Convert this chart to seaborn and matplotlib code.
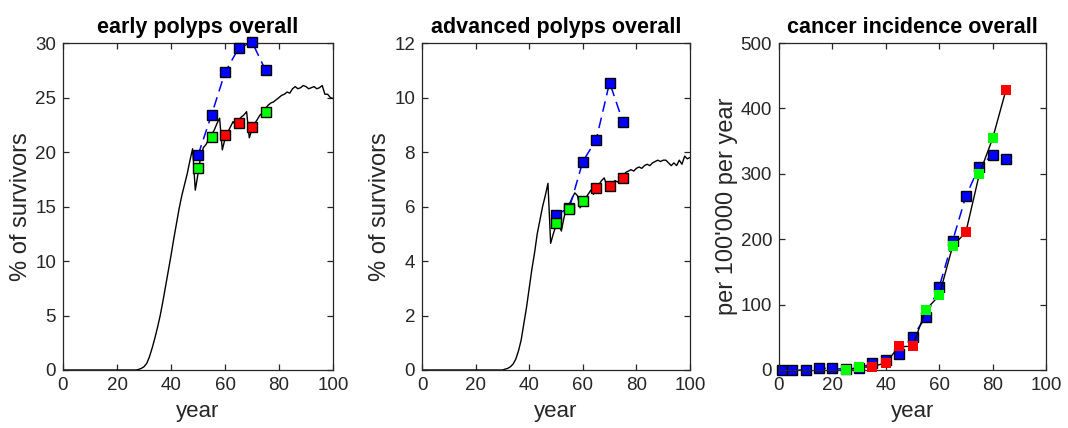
import numpy as np
import pandas as pd
import matplotlib
matplotlib.use("Agg")
import matplotlib.pyplot as plt
import seaborn as sns

sns.set_style("ticks")
plt.rcParams['font.family'] = ['Liberation Sans', 'DejaVu Sans']

# ---------------- data ----------------
years = np.arange(0, 101)

early_model = [0.0] * 28 + [
    0.05, 0.15, 0.3, 0.6, 1.2, 2.0, 2.9, 3.9, 5.0, 6.3,           # 28-37
    7.7, 9.1, 10.5, 12.0, 13.4, 14.8, 16.0, 17.0, 18.0, 19.2,     # 38-47
    20.3, 16.5, 18.0, 19.6, 20.4, 20.7, 21.2, 21.6, 22.0, 22.6,   # 48-57
    23.1, 20.2, 21.2, 21.8, 22.3, 22.8, 22.4, 22.9, 23.2, 23.4,   # 58-67
    23.7, 21.3, 22.1, 22.6, 23.0, 23.4, 23.6, 24.0, 24.3, 24.5,   # 68-77
    24.6, 24.8, 25.0, 25.2, 25.3, 25.5, 25.4, 25.8, 26.0, 25.8,   # 78-87
    25.9, 26.1, 26.0, 25.8, 25.9, 26.0, 25.8, 25.9, 26.1, 25.3,   # 88-97
    25.3, 25.0, 24.9]                                             # 98-100

early_blue_x = [50, 55, 60, 65, 70, 75]
early_blue_y = [19.7, 23.4, 27.3, 29.5, 30.1, 27.5]
early_green_x = [50, 55, 75]
early_green_y = [18.5, 21.4, 23.7]
early_red_x = [60, 65, 70]
early_red_y = [21.6, 22.7, 22.3]

adv_model = [0.0] * 31 + [
    0.03, 0.06, 0.12, 0.22, 0.4, 0.7, 1.1, 1.7, 2.3,              # 31-39
    3.0, 3.7, 4.3, 5.0, 5.5, 6.0, 6.4, 6.85, 4.65, 5.0,           # 40-49
    5.3, 5.35, 5.1, 5.6, 6.0, 6.1, 6.3, 6.5, 6.4, 5.95,           # 50-59
    6.25, 6.3, 6.45, 6.6, 6.45, 6.75, 6.8, 6.95, 7.05, 6.75,      # 60-69
    6.8, 6.85, 6.95, 6.9, 7.0, 7.1, 7.25, 7.3, 7.35, 7.3,         # 70-79
    7.4, 7.45, 7.4, 7.5, 7.55, 7.5, 7.6, 7.65, 7.7, 7.65,         # 80-89
    7.7, 7.7, 7.6, 7.5, 7.6, 7.5, 7.7, 7.55, 7.85, 7.75,          # 90-99
    7.8]                                                          # 100

adv_blue_x = [50, 55, 60, 65, 70, 75]
adv_blue_y = [5.7, 5.95, 7.65, 8.45, 10.55, 9.1]
adv_green_x = [50, 55, 60]
adv_green_y = [5.4, 5.92, 6.22]
adv_red_x = [65, 70, 75]
adv_red_y = [6.68, 6.75, 7.05]

ca_blue_x = [1, 5, 10, 15, 20, 25, 30, 35, 40, 45, 50, 55, 60, 65, 70, 75, 80, 85]
ca_blue_y = [0, 0, 0, 2.5, 2.5, 1, 3, 10, 15, 25, 51, 81, 127, 197, 266, 311, 329, 323]
ca_green_x = [25, 30, 55, 60, 65, 75, 80]
ca_green_y = [0, 4, 92, 114, 189, 299, 354]
ca_red_x = [35, 40, 45, 50, 70, 85]
ca_red_y = [5, 11, 36, 36, 211, 428]

titles = ["early polyps overall", "advanced polyps overall", "cancer incidence overall"]
ylabels = ["% of survivors", "% of survivors", "per 100'000 per year"]

# ---------------- style ----------------
BLUE = "#0000ff"
GREEN = "#00ff00"
RED = "#ff0000"
GRAY = "#262626"

fig = plt.figure(figsize=(10.68, 4.28), dpi=100)
W, H = 1068, 428
boxes = [(63, 333), (422, 690), (779, 1046)]
top_px, bot_px = 43, 370
axes = []
for (l, r) in boxes:
    ax = fig.add_axes([l / W, (H - bot_px) / H, (r - l) / W, (bot_px - top_px) / H])
    axes.append(ax)

def style(ax, title, ylabel, ylim, yticks):
    ax.set_xlim(0, 100)
    ax.set_ylim(*ylim)
    ax.set_xticks([0, 20, 40, 60, 80, 100])
    ax.set_yticks(yticks)
    ax.set_title(title, fontsize=15.5, fontweight='bold', color='black', pad=7)
    ax.set_ylabel(ylabel, fontsize=17, color=GRAY, labelpad=2)
    ax.set_xlabel("year", fontsize=16, color=GRAY, labelpad=5)
    for s in ax.spines.values():
        s.set_visible(True)
        s.set_color(GRAY)
        s.set_linewidth(0.9)
    ax.tick_params(direction='in', length=4, width=0.9, colors=GRAY,
                   labelsize=13.5, top=True, right=True, labelcolor=GRAY, pad=5)

def sqmark(ax, x, y, color, edge=True, ls='', lw=1.1, z=3):
    df = pd.DataFrame({'x': x, 'y': y})
    kw = dict(marker='s', markersize=7.5, markerfacecolor=color,
              markeredgecolor='black' if edge else color,
              markeredgewidth=1.0 if edge else 0.0, clip_on=False)
    if ls:
        sns.lineplot(data=df, x='x', y='y', ax=ax, color=color, linestyle=ls,
                     linewidth=lw, sort=False, zorder=z, dashes=False, **kw)
    else:
        sns.lineplot(data=df, x='x', y='y', ax=ax, color=color, linewidth=0,
                     sort=False, zorder=z, **kw)

# panel 1
ax = axes[0]
sns.lineplot(x=years, y=early_model, ax=ax, color='black', linewidth=1.0, zorder=2)
sqmark(ax, early_blue_x, early_blue_y, BLUE, ls=(0, (7, 4)), z=3)
sqmark(ax, early_green_x, early_green_y, GREEN, z=4)
sqmark(ax, early_red_x, early_red_y, RED, z=4)
style(ax, titles[0], ylabels[0], (0, 30), [0, 5, 10, 15, 20, 25, 30])

# panel 2
ax = axes[1]
sns.lineplot(x=years, y=adv_model, ax=ax, color='black', linewidth=1.0, zorder=2)
sqmark(ax, adv_blue_x, adv_blue_y, BLUE, ls=(0, (7, 4)), z=3)
sqmark(ax, adv_green_x, adv_green_y, GREEN, z=4)
sqmark(ax, adv_red_x, adv_red_y, RED, z=4)
style(ax, titles[1], ylabels[1], (0, 12), [0, 2, 4, 6, 8, 10, 12])

# panel 3
ax = axes[2]
sqmark(ax, ca_blue_x, ca_blue_y, BLUE, ls=(0, (7, 4)), z=2)
comb = pd.DataFrame({'x': ca_green_x + ca_red_x, 'y': ca_green_y + ca_red_y}).sort_values('x')
sns.lineplot(data=comb, x='x', y='y', ax=ax, color='black', linewidth=1.0, zorder=3)
sqmark(ax, ca_green_x, ca_green_y, GREEN, edge=False, z=4)
sqmark(ax, ca_red_x, ca_red_y, RED, edge=False, z=4)
style(ax, titles[2], ylabels[2], (0, 500), [0, 100, 200, 300, 400, 500])

for a in axes:
    lg = a.get_legend()
    if lg:
        lg.remove()

fig.savefig("out.png", dpi=100)
